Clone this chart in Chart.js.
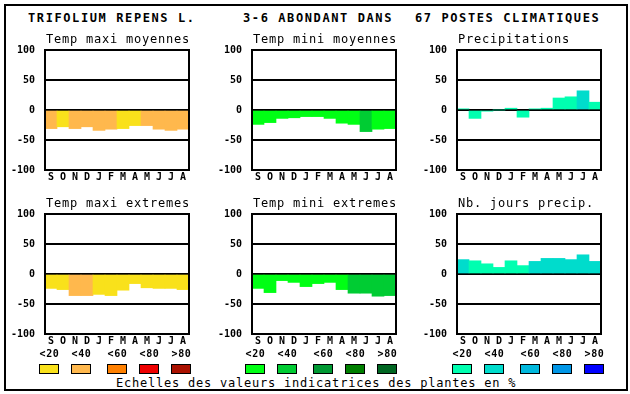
<!DOCTYPE html>
<html>
<head>
<meta charset="utf-8">
<script src="https://cdn.jsdelivr.net/npm/chart.js@4"></script>
<style>
body { margin: 0; background: #fff; }
#page { position: relative; width: 630px; height: 394px; overflow: hidden; font-family: "DejaVu Sans Mono", monospace; color: #000; background: #fff; }
#cadre { position: absolute; left: 4px; top: 4px; width: 620px; height: 383px; border: 2px solid #000; }
.txt { position: absolute; white-space: pre; line-height: 1; }
.titre { font-size: 12px; font-weight: bold; letter-spacing: 1.6px; top: 12px; }
.sous { font-size: 12px; letter-spacing: 0.78px; }
.ech { font-size: 10px; font-weight: bold; letter-spacing: 0.6px; top: 349px; width: 21px; text-align: center; }
.boite { position: absolute; top: 364px; width: 18px; height: 8px; border: 1px solid #000; }
.graf { position: absolute; }
</style>
</head>
<body>
<div id="page">
    <div id="cadre"></div>
    <div class="txt titre" style="left:28px">TRIFOLIUM REPENS L.</div>
    <div class="txt titre" style="left:243px">3-6 ABONDANT DANS</div>
    <div class="txt titre" style="left:415px">67 POSTES CLIMATIQUES</div>
    <div id="zone"></div>
    <div class="txt sous" style="left:116px; top:377px">Echelles des valeurs indicatrices des plantes en %</div>
</div>

<script>
// mois (septembre -> aout)
const mois = ["S","O","N","D","J","F","M","A","M","J","J","A"];
const graduations = [-100, -50, 0, 50, 100];
const classesLegende = ["<20","<40","<60","<80",">80"];

// palettes par type de variable
const paletteJaune = ["#f9e11b","#ffb84d","#ff8000","#ee0000","#aa1100"];
const paletteVert = ["#00ff14","#00cc33","#009933","#007f00","#006622"];
const paletteBleu = ["#00ffb0","#00dccc","#00b8dd","#0096e6","#0000ff"];

// valeurs
const tmaxMoy = [-31,-28,-31,-28,-34,-32,-31,-26,-26,-32,-34,-32];
const tmaxMoyClasse = [1,0,1,1,1,1,0,0,1,1,1,1];
const tminMoy = [-24,-21,-14,-13,-11,-11,-14,-22,-24,-36,-32,-31];
const tminMoyClasse = [0,0,0,0,0,0,0,0,0,1,0,0];
const precip = [2,-14,-2,0,3,-12,2,3,20,22,32,13];
const precipClasse = [0,0,0,0,0,0,0,0,0,0,1,0];
const tmaxExt = [-24,-26,-36,-36,-34,-36,-27,-16,-23,-24,-24,-26];
const tmaxExtClasse = [0,0,1,1,0,0,0,0,0,0,0,0];
const tminExt = [-24,-31,-11,-14,-21,-16,-14,-26,-32,-32,-37,-36];
const tminExtClasse = [0,0,0,0,0,0,0,0,1,1,1,1];
const nbJours = [24,22,17,11,22,14,21,26,26,24,32,21];
const nbJoursClasse = [1,0,0,0,0,0,1,1,1,1,1,1];

const panneaux = [
    { titre: "Temp maxi moyennes", x: 45, y: 50, val: tmaxMoy, cl: tmaxMoyClasse, pal: paletteJaune },
    { titre: "Temp mini moyennes", x: 252, y: 50, val: tminMoy, cl: tminMoyClasse, pal: paletteVert },
    { titre: "Precipitations", x: 457, y: 50, val: precip, cl: precipClasse, pal: paletteBleu },
    { titre: "Temp maxi extremes", x: 45, y: 214, val: tmaxExt, cl: tmaxExtClasse, pal: paletteJaune },
    { titre: "Temp mini extremes", x: 252, y: 214, val: tminExt, cl: tminExtClasse, pal: paletteVert },
    { titre: "Nb. jours precip.", x: 457, y: 214, val: nbJours, cl: nbJoursClasse, pal: paletteBleu }
];

const cadrePlugin = {
    id: 'cadre',
    afterDraw(chart) {
        const a = chart.chartArea;
        const ctx = chart.ctx;
        ctx.save();
        ctx.strokeStyle = '#000';
        ctx.lineWidth = 2;
        ctx.strokeRect(Math.round(a.left), Math.round(a.top), Math.round(a.right - a.left), Math.round(a.bottom - a.top));
        ctx.restore();
    }
};

const zone = document.getElementById('zone');
const page = document.getElementById('page');

panneaux.forEach((p, i) => {
    const st = document.createElement('div');
    st.className = 'txt sous';
    st.style.left = (p.x + 1) + 'px';
    st.style.top = (p.y - 17) + 'px';
    st.textContent = p.titre;
    page.appendChild(st);

    const div = document.createElement('div');
    div.className = 'graf';
    div.style.left = (p.x - 45) + 'px';
    div.style.top = (p.y - 10) + 'px';
    const cv = document.createElement('canvas');
    cv.width = 200;
    cv.height = 150;
    cv.style.width = '200px';
    cv.style.height = '150px';
    div.appendChild(cv);
    zone.appendChild(div);

    new Chart(cv, {
        type: 'bar',
        data: {
            labels: mois,
            datasets: [{
                data: p.val,
                backgroundColor: p.cl.map(c => p.pal[c]),
                borderWidth: 0,
                categoryPercentage: 1,
                barPercentage: 1
            }]
        },
        options: {
            responsive: false,
            animation: false,
            devicePixelRatio: 1,
            layout: { padding: { top: 10, right: 11, left: 0, bottom: 0 } },
            plugins: { legend: { display: false }, tooltip: { enabled: false } },
            scales: {
                x: {
                    grid: { display: false, drawTicks: false },
                    border: { display: false },
                    ticks: { color: '#000', padding: 1, maxRotation: 0, autoSkip: false,
                        font: { family: 'DejaVu Sans Mono', size: 10, weight: 'bold' } },
                    afterFit: s => { s.height = 20; }
                },
                y: {
                    min: -100,
                    max: 100,
                    z: 1,
                    afterBuildTicks: s => { s.ticks = graduations.map(v => ({ value: v })); },
                    grid: { color: '#000', lineWidth: 2, drawTicks: true, tickLength: 10, tickColor: 'rgba(0,0,0,0)' },
                    border: { display: true, color: '#000', width: 2 },
                    ticks: { color: '#000', padding: 0,
                        font: { family: 'DejaVu Sans Mono', size: 10, weight: 'bold' } },
                    afterFit: s => { s.width = 45; }
                }
            }
        },
        plugins: [cadrePlugin]
    });
});

// echelles de couleurs sous les graphiques
const debutsGroupes = [39, 245, 452];
const decalages = [0, 32, 68, 100, 132];
[paletteJaune, paletteVert, paletteBleu].forEach((pal, g) => {
    pal.forEach((coul, k) => {
        const x = debutsGroupes[g] + decalages[k];
        const b = document.createElement('div');
        b.className = 'boite';
        b.style.left = x + 'px';
        b.style.background = coul;
        page.appendChild(b);
        const t = document.createElement('div');
        t.className = 'txt ech';
        t.style.left = x + 'px';
        t.textContent = classesLegende[k];
        page.appendChild(t);
    });
});
</script>
</body>
</html>
